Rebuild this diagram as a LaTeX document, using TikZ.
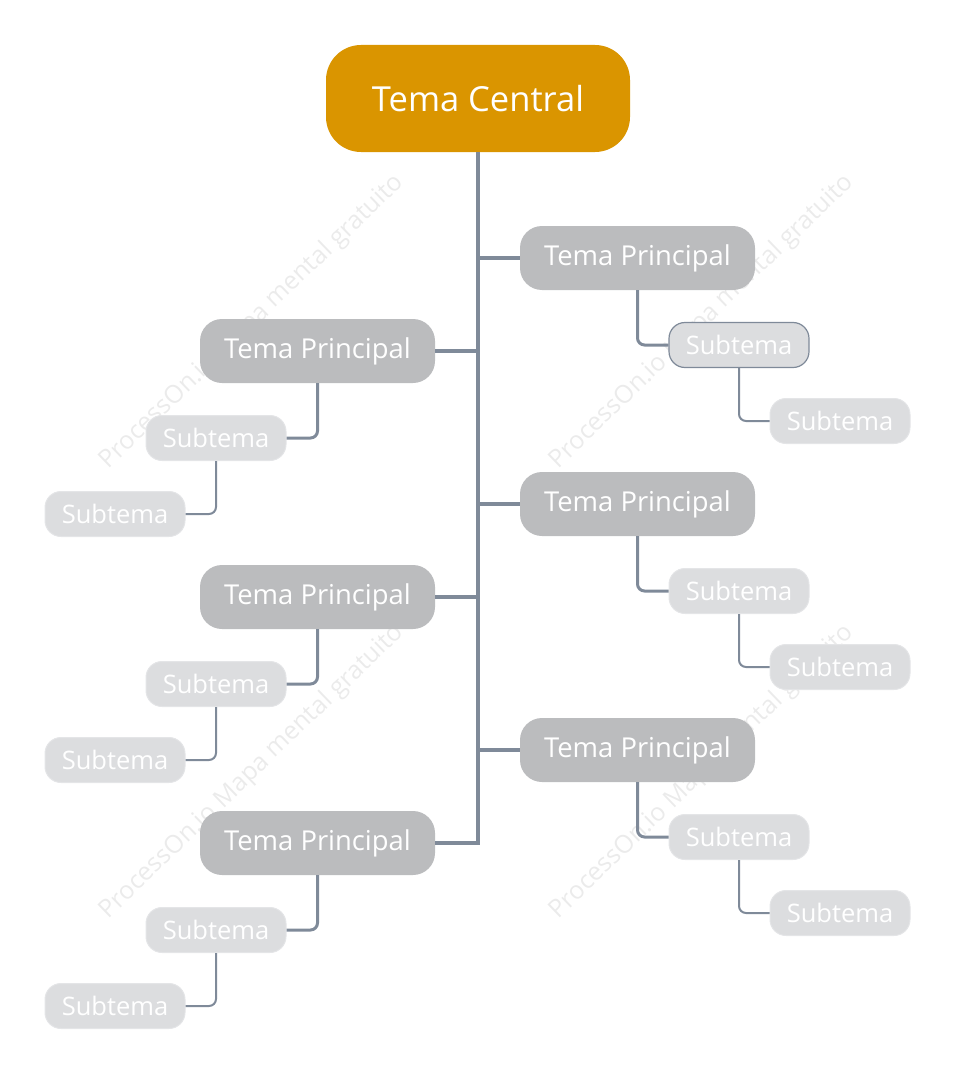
\documentclass[tikz,border=0pt]{standalone}
\usepackage{fontspec}
\setmainfont{Open Sans}
\usetikzlibrary{positioning}
\definecolor{amber}{HTML}{DA9500}
\definecolor{slate}{HTML}{7F8A99}
\definecolor{midgray}{HTML}{BBBCBE}
\definecolor{lightgray}{HTML}{DCDDDF}
\definecolor{edgegray}{HTML}{E4E5E7}
\definecolor{wmgray}{HTML}{EBEBEB}

\begin{document}
\begin{tikzpicture}[x=1pt,y=-1pt,
  central/.style={fill=amber,rounded corners=35pt,minimum width=304pt,minimum height=107pt,inner sep=0pt,text=white,font=\fontsize{34.5}{40}\selectfont},
  principal/.style={fill=midgray,rounded corners=22pt,minimum width=235pt,minimum height=64pt,inner sep=0pt,text=white,font=\fontsize{27.4}{32}\selectfont},
  subtema/.style={fill=lightgray,draw=edgegray,line width=1pt,rounded corners=16pt,minimum width=140pt,minimum height=45pt,inner sep=0pt,text=white,font=\fontsize{25.5}{30}\selectfont},
  trunk/.style={draw=slate,line width=3.5pt},
  link/.style={draw=slate,line width=3pt,rounded corners=7pt},
  sublink/.style={draw=slate,line width=2pt,rounded corners=7pt},
  watermark/.style={rotate=44,text=wmgray,font=\fontsize{25}{30}\selectfont}
]
\useasboundingbox (0,0) rectangle (956,1089);

% watermarks
\node[watermark] (wm1) at (252,322) {ProcessOn.io Mapa mental gratuito};
\node[watermark] (wm2) at (702,322) {ProcessOn.io Mapa mental gratuito};
\node[watermark] (wm3) at (252,772) {ProcessOn.io Mapa mental gratuito};
\node[watermark] (wm4) at (702,772) {ProcessOn.io Mapa mental gratuito};

% main topics
\node[central] (central) at (478,98.5) {Tema Central};
\node[principal] (pr1) at (637.5,258) {Tema Principal};
\node[principal] (pr2) at (637.5,504) {Tema Principal};
\node[principal] (pr3) at (637.5,750) {Tema Principal};
\node[principal] (pl1) at (317.5,351) {Tema Principal};
\node[principal] (pl2) at (317.5,597) {Tema Principal};
\node[principal] (pl3) at (317.5,843) {Tema Principal};

% subtopics
\node[subtema,draw=slate,line width=1.2pt] (sr1) at (739,345) {Subtema};
\node[subtema] (srr1) at (840,421) {Subtema};
\node[subtema] (sr2) at (739,591) {Subtema};
\node[subtema] (srr2) at (840,667) {Subtema};
\node[subtema] (sr3) at (739,837) {Subtema};
\node[subtema] (srr3) at (840,913) {Subtema};
\node[subtema] (sl1) at (216,438) {Subtema};
\node[subtema] (sll1) at (115,514) {Subtema};
\node[subtema] (sl2) at (216,684) {Subtema};
\node[subtema] (sll2) at (115,760) {Subtema};
\node[subtema] (sl3) at (216,930) {Subtema};
\node[subtema] (sll3) at (115,1006) {Subtema};

% trunk and branches
\draw[trunk] (central.south) -- (central.south |- pl3.east) -- (pl3.east);
\draw[trunk] (central.south |- pr1.west) -- (pr1.west);
\draw[trunk] (central.south |- pr2.west) -- (pr2.west);
\draw[trunk] (central.south |- pr3.west) -- (pr3.west);
\draw[trunk] (central.south |- pl1.east) -- (pl1.east);
\draw[trunk] (central.south |- pl2.east) -- (pl2.east);

% links to subtopics
\draw[link] (pr1.south) |- (sr1.west);
\draw[link] (pr2.south) |- (sr2.west);
\draw[link] (pr3.south) |- (sr3.west);
\draw[link] (pl1.south) |- (sl1.east);
\draw[link] (pl2.south) |- (sl2.east);
\draw[link] (pl3.south) |- (sl3.east);
\draw[sublink] (sr1.south) |- (srr1.west);
\draw[sublink] (sr2.south) |- (srr2.west);
\draw[sublink] (sr3.south) |- (srr3.west);
\draw[sublink] (sl1.south) |- (sll1.east);
\draw[sublink] (sl2.south) |- (sll2.east);
\draw[sublink] (sl3.south) |- (sll3.east);
\end{tikzpicture}
\end{document}
